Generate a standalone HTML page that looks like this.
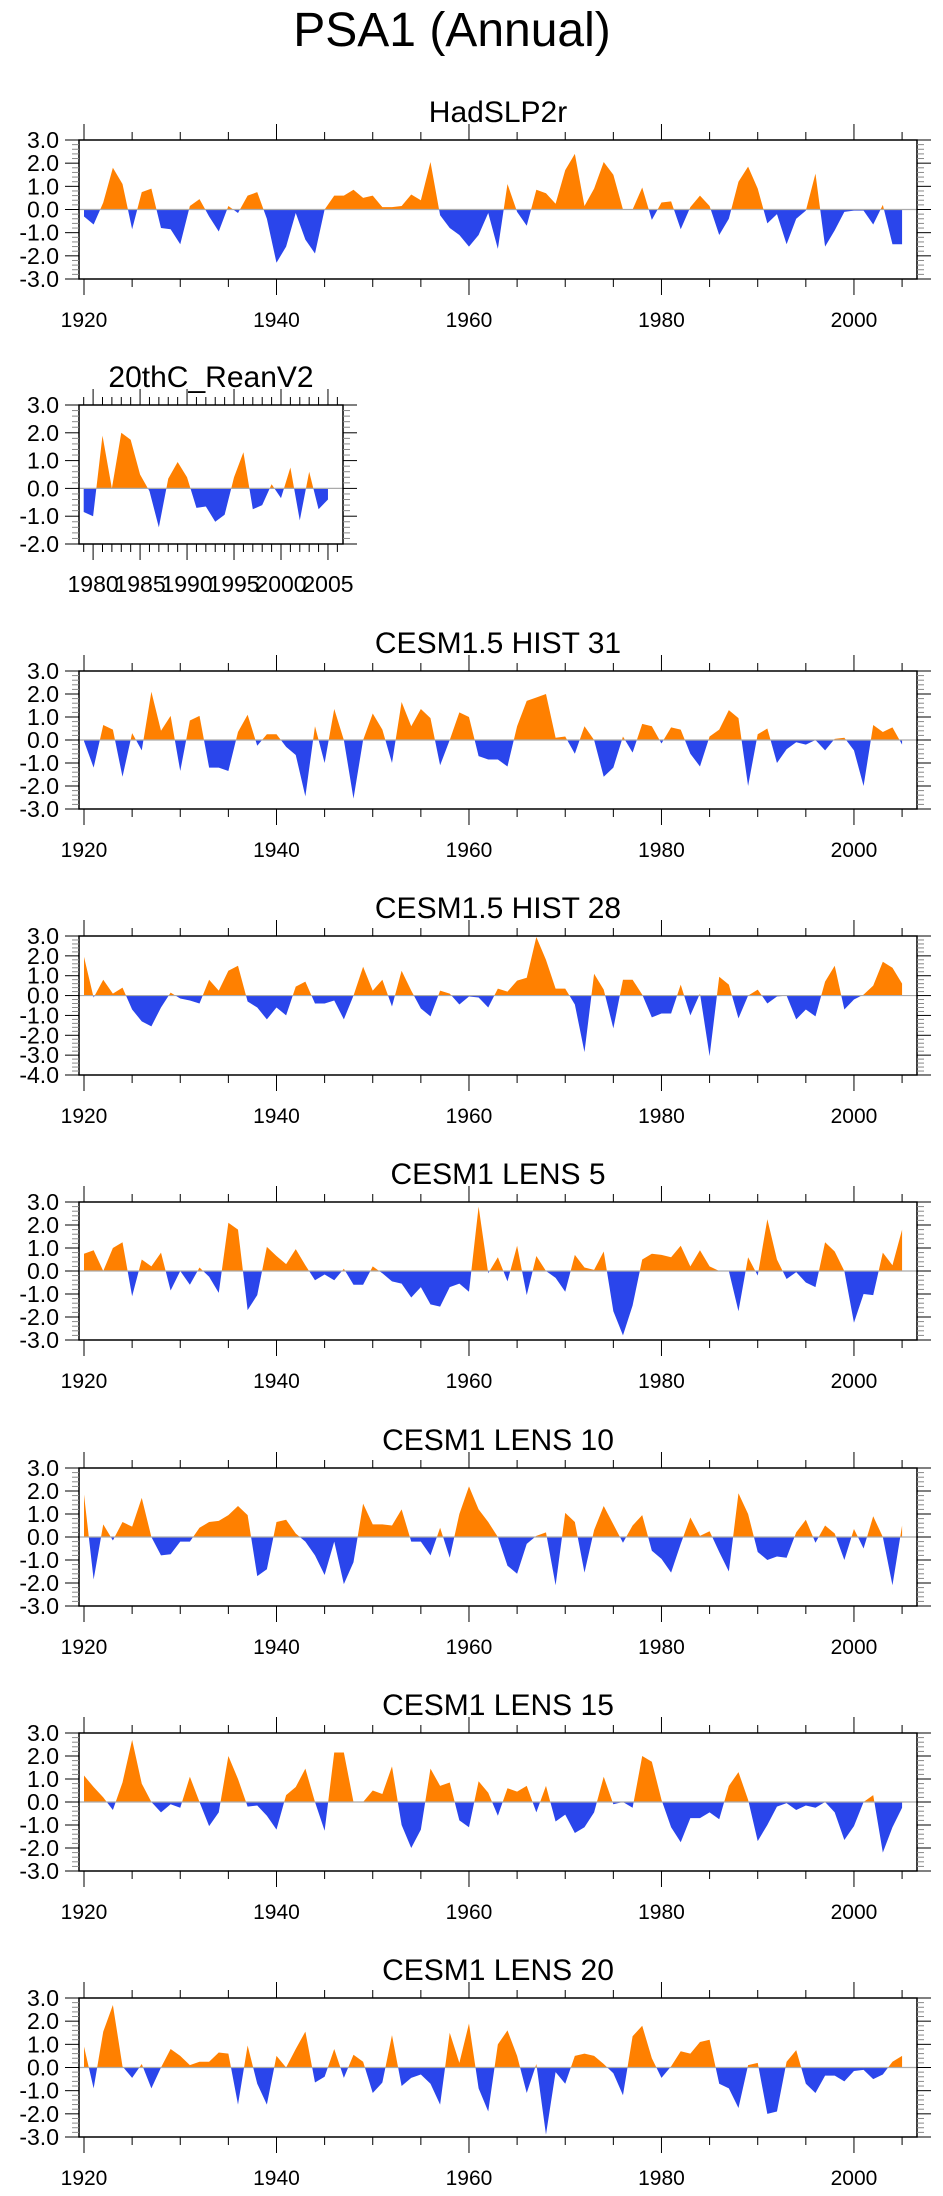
<!DOCTYPE html>
<html><head><meta charset="utf-8"><title>PSA1 (Annual)</title>
<style>
html,body{margin:0;padding:0;background:#fff;}
svg{display:block;font-family:"Liberation Sans",Arial,sans-serif;}
</style></head>
<body>
<svg id="fig" width="943" height="2196" viewBox="0 0 943 2196" xmlns="http://www.w3.org/2000/svg">
<text x="452" y="46" font-size="48" text-anchor="middle" fill="#000">PSA1 (Annual)</text>
</svg>
<script>
const hadYears0 = 1920;
const hadVals = [-0.3,-0.65,0.3,1.8,1.1,-0.85,0.75,0.9,-0.8,-0.85,-1.5,0.15,0.45,-0.3,-0.95,0.15,-0.15,0.6,0.75,-0.4,-2.3,-1.6,-0.15,-1.3,-1.9,0.0,0.6,0.6,0.85,0.5,0.6,0.1,0.1,0.15,0.65,0.4,2.05,-0.25,-0.8,-1.1,-1.6,-1.1,-0.15,-1.7,1.1,-0.1,-0.7,0.85,0.7,0.25,1.7,2.4,0.15,0.9,2.05,1.5,0.0,0.0,0.95,-0.45,0.3,0.35,-0.85,0.1,0.6,0.15,-1.1,-0.4,1.2,1.85,0.9,-0.6,-0.2,-1.5,-0.4,-0.05,1.55,-1.6,-0.9,-0.1,-0.05,-0.05,-0.65,0.2,-1.5,-1.5];
const reanYears0 = 1979;
const reanVals = [-0.85,-1.0,1.9,0.0,2.0,1.75,0.5,-0.1,-1.4,0.35,0.95,0.4,-0.7,-0.65,-1.2,-0.95,0.4,1.3,-0.75,-0.6,0.15,-0.35,0.75,-1.15,0.6,-0.75,-0.4];
const hist31Vals = [-0.05,-1.2,0.65,0.45,-1.6,0.3,-0.45,2.1,0.4,1.05,-1.35,0.85,1.05,-1.2,-1.2,-1.35,0.35,1.1,-0.25,0.25,0.25,-0.3,-0.65,-2.45,0.6,-1.0,1.35,0.0,-2.55,0.0,1.15,0.45,-1.0,1.65,0.6,1.35,0.95,-1.1,0.0,1.2,1.0,-0.7,-0.85,-0.85,-1.15,0.6,1.7,1.85,2.0,0.1,0.15,-0.6,0.6,0.0,-1.6,-1.2,0.15,-0.55,0.7,0.6,-0.15,0.55,0.45,-0.6,-1.15,0.15,0.45,1.3,0.95,-2.0,0.25,0.5,-1.0,-0.4,-0.1,-0.2,0.0,-0.45,0.05,0.1,-0.45,-2.0,0.65,0.35,0.55,-0.2];
const hist28Vals = [1.95,-0.1,0.8,0.1,0.4,-0.7,-1.3,-1.55,-0.6,0.15,-0.15,-0.25,-0.4,0.8,0.25,1.25,1.5,-0.3,-0.6,-1.2,-0.6,-1.0,0.45,0.7,-0.4,-0.4,-0.25,-1.2,0.0,1.45,0.25,0.8,-0.55,1.25,0.25,-0.65,-1.05,0.25,0.1,-0.45,-0.05,-0.1,-0.6,0.35,0.2,0.75,0.9,2.95,1.8,0.35,0.35,-0.45,-2.85,1.1,0.3,-1.65,0.8,0.8,0.05,-1.1,-0.9,-0.9,0.55,-1.0,0.1,-3.05,0.95,0.55,-1.15,0.0,0.3,-0.4,-0.05,0.0,-1.2,-0.7,-1.05,0.7,1.5,-0.7,-0.2,0.05,0.5,1.7,1.4,0.6];
const lens5Vals = [0.75,0.9,0.0,1.0,1.25,-1.1,0.5,0.2,0.8,-0.85,0.0,-0.6,0.15,-0.25,-0.95,2.1,1.8,-1.7,-1.05,1.05,0.65,0.3,0.95,0.25,-0.4,-0.15,-0.4,0.1,-0.6,-0.6,0.2,-0.1,-0.45,-0.55,-1.15,-0.7,-1.45,-1.55,-0.7,-0.55,-0.9,2.8,-0.1,0.6,-0.45,1.1,-1.05,0.65,0.0,-0.3,-0.9,0.7,0.15,0.05,0.85,-1.75,-2.8,-1.5,0.5,0.75,0.7,0.6,1.1,0.2,0.9,0.2,0.0,0.0,-1.75,0.6,-0.2,2.25,0.5,-0.35,-0.05,-0.5,-0.7,1.25,0.85,0.0,-2.25,-1.0,-1.05,0.8,0.25,1.8];
const lens10Vals = [1.85,-1.85,0.55,-0.15,0.65,0.45,1.7,0.0,-0.8,-0.75,-0.2,-0.2,0.4,0.65,0.7,0.95,1.35,0.95,-1.7,-1.4,0.65,0.75,0.15,-0.2,-0.8,-1.65,-0.2,-2.05,-1.1,1.45,0.55,0.55,0.5,1.2,-0.2,-0.2,-0.8,0.4,-0.9,1.0,2.2,1.2,0.65,0.0,-1.25,-1.6,-0.3,0.05,0.2,-2.1,1.05,0.65,-1.55,0.3,1.35,0.55,-0.25,0.5,0.95,-0.6,-0.95,-1.55,-0.3,0.85,0.05,0.25,-0.65,-1.5,1.9,1.0,-0.65,-1.0,-0.85,-0.9,0.2,0.75,-0.25,0.5,0.15,-1.0,0.35,-0.5,0.9,0.0,-2.1,0.5];
const lens15Vals = [1.15,0.65,0.2,-0.35,0.85,2.7,0.8,0.0,-0.45,-0.1,-0.25,1.1,0.0,-1.05,-0.45,2.0,1.0,-0.2,-0.15,-0.6,-1.2,0.3,0.65,1.45,0.0,-1.25,2.15,2.15,0.0,0.0,0.5,0.35,1.55,-1.0,-2.0,-1.2,1.45,0.7,0.85,-0.8,-1.1,0.9,0.4,-0.6,0.6,0.45,0.7,-0.45,0.7,-0.85,-0.55,-1.35,-1.1,-0.45,1.1,-0.1,0.0,-0.25,2.0,1.75,0.1,-1.1,-1.75,-0.7,-0.7,-0.45,-0.75,0.7,1.3,0.1,-1.7,-1.0,-0.2,-0.05,-0.35,-0.15,-0.25,0.0,-0.45,-1.65,-1.05,0.0,0.3,-2.2,-1.1,-0.25];
const lens20Vals = [0.9,-0.9,1.55,2.7,0.05,-0.45,0.15,-0.9,0.0,0.8,0.5,0.1,0.25,0.25,0.65,0.6,-1.6,0.95,-0.7,-1.6,0.5,0.0,0.8,1.55,-0.65,-0.4,0.8,-0.45,0.55,0.25,-1.1,-0.65,1.4,-0.8,-0.45,-0.3,-0.7,-1.6,1.5,0.2,1.9,-0.9,-1.9,1.0,1.6,0.5,-1.1,0.15,-2.9,-0.2,-0.7,0.5,0.6,0.5,0.15,-0.25,-1.2,1.35,1.8,0.4,-0.45,0.05,0.7,0.6,1.1,1.2,-0.7,-0.9,-1.75,0.1,0.2,-2.0,-1.9,0.25,0.75,-0.7,-1.1,-0.35,-0.35,-0.6,-0.15,-0.1,-0.5,-0.3,0.25,0.5];
const longXTicks = [1920,1940,1960,1980,2000];
const shortXTicks = [1980,1985,1990,1995,2000,2005];

const NS = "http://www.w3.org/2000/svg";
const svg = document.getElementById('fig');
const POS = "#ff8000", NEG = "#2a45eb";
function mk(tag, attrs, parent){ const e=document.createElementNS(NS,tag); for(const k in attrs) e.setAttribute(k,attrs[k]); (parent||svg).appendChild(e); return e; }
let clipId=0;
function panel(cfg){
  const g = mk('g',{});
  
  
  const X = yr => cfg.x0 + (yr - cfg.xmin)/(cfg.xmax - cfg.xmin)*(cfg.x1 - cfg.x0);
  const Y = v => cfg.y0 + (cfg.ymax - v)/(cfg.ymax - cfg.ymin)*(cfg.y1 - cfg.y0);
  const t = mk('text',{x:(cfg.x0+cfg.x1)/2,y:cfg.y0-18,'font-size':30,'text-anchor':'middle',fill:'#000'},g);
  t.textContent = cfg.title;
  
  
  const n = cfg.vals.length;
  let d = 'M'+X(cfg.start)+','+Y(0);
  for(let i=0;i<n;i++) d += 'L'+X(cfg.start+i).toFixed(2)+','+Y(cfg.vals[i]).toFixed(2);
  d += 'L'+X(cfg.start+n-1)+','+Y(0)+'Z';
  const id=++clipId;
  const defs = mk('defs',{},g);
  const cp = mk('clipPath',{id:'cp'+id},defs); mk('rect',{x:cfg.x0,y:cfg.y0,width:cfg.x1-cfg.x0,height:Y(0)-cfg.y0},cp);
  const cn = mk('clipPath',{id:'cn'+id},defs); mk('rect',{x:cfg.x0,y:Y(0),width:cfg.x1-cfg.x0,height:cfg.y1-Y(0)},cn);
  const ap = mk('path',{d:d,fill:POS,'clip-path':'url(#cp'+id+')'},g);
  
  
  const an = mk('path',{d:d,fill:NEG,'clip-path':'url(#cn'+id+')'},g);
  
  
  const zl = mk('line',{x1:cfg.x0,x2:cfg.x1,y1:Y(0),y2:Y(0),stroke:'#aaa','stroke-width':1.2},g);
  
  
  const box = mk('rect',{x:cfg.x0,y:cfg.y0,width:cfg.x1-cfg.x0,height:cfg.y1-cfg.y0,fill:'none',stroke:'#000','stroke-width':1.5},g);
  
  
  for(let v=cfg.ymin; v<=cfg.ymax+1e-6; v=Math.round((v+0.2)*10)/10){
    const major = Math.abs(v-Math.round(v))<1e-6;
    const L = major?14:7;
    mk('line',{x1:cfg.x0-L,x2:cfg.x0,y1:Y(v),y2:Y(v),stroke:major?'#000':'#888','stroke-width':1},g);
    mk('line',{x1:cfg.x1,x2:cfg.x1+L,y1:Y(v),y2:Y(v),stroke:major?'#000':'#888','stroke-width':1},g);
    if(major){
      const lt = mk('text',{x:cfg.x0-20,y:Y(v)+8,'font-size':23,'text-anchor':'end',fill:'#000'},g);
      lt.textContent = v.toFixed(1);
      
      
    }
  }
  for(let yr=Math.ceil(cfg.xmin); yr<=cfg.xmax; yr++){
    const isMajor = (yr % cfg.majorStep)===0, isMinor = (yr % cfg.minorStep)===0;
    if(!isMajor && !isMinor) continue;
    const L = isMajor?16:8;
    mk('line',{x1:X(yr),x2:X(yr),y1:cfg.y1,y2:cfg.y1+L,stroke:'#000','stroke-width':1},g);
    mk('line',{x1:X(yr),x2:X(yr),y1:cfg.y0-L,y2:cfg.y0,stroke:'#000','stroke-width':1},g);
  }
  cfg.ticks.forEach(yr=>{
    const lt = mk('text',{x:X(yr),y:cfg.y1+48,'font-size':cfg.xfs||21,'text-anchor':'middle',fill:'#000'},g);
    lt.textContent = String(yr);
    
    
  });
}
const bigX = {x0:79,x1:917,xmin:1919.48,xmax:2006.55,majorStep:20,minorStep:5,ticks:longXTicks,start:hadYears0};
panel(Object.assign({},bigX,{name:'hadslp2r-panel',title:'HadSLP2r',vals:hadVals,y0:140,y1:279,ymin:-3,ymax:3}));
panel({name:'20thc-reanv2-panel',title:'20thC_ReanV2',vals:reanVals,start:reanYears0,x0:79,x1:343,xmin:1978.5,xmax:2006.6,majorStep:5,minorStep:1,ticks:shortXTicks,xfs:23,y0:405,y1:544,ymin:-2,ymax:3});
panel(Object.assign({},bigX,{name:'cesm15-hist31-panel',title:'CESM1.5 HIST 31',vals:hist31Vals,y0:671,y1:809,ymin:-3,ymax:3}));
panel(Object.assign({},bigX,{name:'cesm15-hist28-panel',title:'CESM1.5 HIST 28',vals:hist28Vals,y0:936,y1:1075,ymin:-4,ymax:3}));
panel(Object.assign({},bigX,{name:'cesm1-lens5-panel',title:'CESM1 LENS 5',vals:lens5Vals,y0:1202,y1:1340,ymin:-3,ymax:3}));
panel(Object.assign({},bigX,{name:'cesm1-lens10-panel',title:'CESM1 LENS 10',vals:lens10Vals,y0:1468,y1:1606,ymin:-3,ymax:3}));
panel(Object.assign({},bigX,{name:'cesm1-lens15-panel',title:'CESM1 LENS 15',vals:lens15Vals,y0:1733,y1:1871,ymin:-3,ymax:3}));
panel(Object.assign({},bigX,{name:'cesm1-lens20-panel',title:'CESM1 LENS 20',vals:lens20Vals,y0:1998,y1:2137,ymin:-3,ymax:3}));
</script>
</body></html>
